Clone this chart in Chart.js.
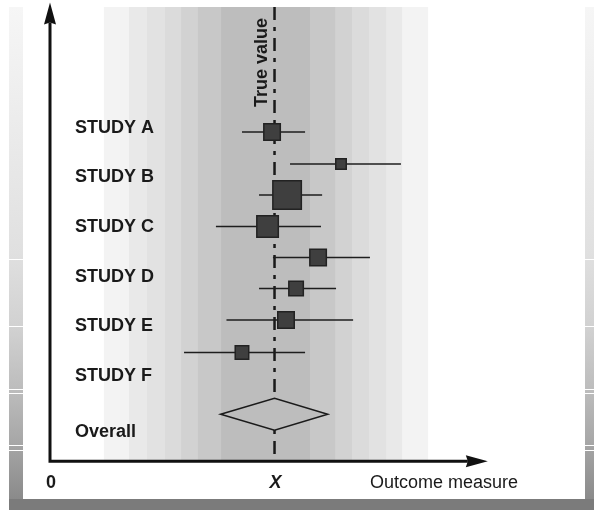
<!DOCTYPE html>
<html>
<head>
<meta charset="utf-8">
<script src="https://cdn.jsdelivr.net/npm/chart.js@4.4.1/dist/chart.umd.min.js"></script>
<style>
  html, body { margin: 0; padding: 0; background: #fff; }
  #wrap { width: 594px; height: 510px; }
</style>
</head>
<body>
<div id="wrap"><canvas id="forest" width="594" height="510"></canvas></div>
<script>
// row labels on the left
const studyLabels = ['STUDY A', 'STUDY B', 'STUDY C', 'STUDY D', 'STUDY E', 'STUDY F', 'Overall'];
const labelRows = [1, 2, 3, 4, 5, 6, 7.125];

// study estimates (X = 1) with their intervals and weights
const estRows   = [1.112, 1.757, 2.381, 3.016, 3.641, 4.270, 4.901, 5.556];
const estimates = [0.989, 1.296, 1.056, 0.969, 1.194, 1.096, 1.051, 0.855];
const lowerCI   = [0.855, 1.069, 0.931, 0.739, 0.993, 0.931, 0.786, 0.597];
const upperCI   = [1.136, 1.563, 1.212, 1.207, 1.425, 1.274, 1.350, 1.136];
const weights   = [18, 12, 30, 23, 18, 16, 18, 15];

// pooled result (diamond)
const overallRow = 6.805;
const overallEst = 1.0;
const overallLo  = 0.760;
const overallHi  = 1.237;
const overallHalf = 0.322;

const trueValue = 1;
const xTickValues = [0, 1];
const xTickLabels = ['0', 'X'];
const xAxisTitle = 'Outcome measure';
const trueLabel = 'True value';

// grey bands round the true value, outermost first
const bandLo   = [0.240, 0.352, 0.432, 0.512, 0.584, 0.659, 0.762];
const bandHi   = [1.684, 1.568, 1.497, 1.421, 1.345, 1.270, 1.158];
const bandGrey = ['#f3f3f3', '#e9e9e9', '#e2e2e2', '#dbdbdb', '#d2d2d2', '#c8c8c8', '#bdbdbd'];
const bandTop = -1.407;
const axisEnd = 1.95;

const FONT = '"Liberation Sans", Arial, Helvetica, sans-serif';
const INK = '#1a1a1a';

const forestPlugin = {
  id: 'forest',
  beforeDraw(chart) {
    const ctx = chart.ctx;
    ctx.save();
    ctx.fillStyle = '#fff';
    ctx.fillRect(0, 0, chart.width, chart.height);
    // page frame
    const g = ctx.createLinearGradient(0, 7, 0, 499);
    g.addColorStop(0, '#f6f6f6');
    g.addColorStop(0.5, '#e0e0e0');
    g.addColorStop(0.66, '#d0d0d0');
    g.addColorStop(0.78, '#bcbcbc');
    g.addColorStop(0.88, '#a8a8a8');
    g.addColorStop(1, '#8a8a8a');
    ctx.fillStyle = g;
    ctx.fillRect(9, 7, 14, 492);
    ctx.fillRect(585, 7, 9, 492);
    ctx.fillStyle = '#7b7b7b';
    ctx.fillRect(9, 499, 585, 11);
    ctx.strokeStyle = '#fff';
    ctx.lineWidth = 1;
    [259.5, 326.5, 389.5, 393.5, 445.5, 450.5].forEach(yy => {
      ctx.beginPath();
      ctx.moveTo(9, yy); ctx.lineTo(23, yy);
      ctx.moveTo(585, yy); ctx.lineTo(594, yy);
      ctx.stroke();
    });
    ctx.restore();
  },
  beforeDatasetsDraw(chart) {
    const { ctx, scales: { x, y } } = chart;
    const top = y.getPixelForValue(bandTop);
    const bottom = y.getPixelForValue(y.max);
    ctx.save();
    bandLo.forEach((lo, i) => {
      const l = x.getPixelForValue(lo), r = x.getPixelForValue(bandHi[i]);
      ctx.fillStyle = bandGrey[i];
      ctx.fillRect(l, top, r - l, bottom - top);
    });
    // true value line
    const tx = x.getPixelForValue(trueValue);
    ctx.strokeStyle = INK;
    ctx.lineWidth = 2.5;
    ctx.setLineDash([13, 7, 4, 7]);
    ctx.beginPath();
    ctx.moveTo(tx, top);
    ctx.lineTo(tx, bottom);
    ctx.stroke();
    ctx.setLineDash([]);
    // confidence intervals
    ctx.strokeStyle = '#1e1e1e';
    ctx.lineWidth = 1.5;
    estRows.forEach((row, i) => {
      const py = y.getPixelForValue(row);
      ctx.beginPath();
      ctx.moveTo(x.getPixelForValue(lowerCI[i]), py);
      ctx.lineTo(x.getPixelForValue(upperCI[i]), py);
      ctx.stroke();
    });
    ctx.restore();
  },
  afterDatasetsDraw(chart) {
    const { ctx, scales: { x, y } } = chart;
    ctx.save();
    // diamond
    const cy = y.getPixelForValue(overallRow);
    const dTop = y.getPixelForValue(overallRow - overallHalf);
    const dBot = y.getPixelForValue(overallRow + overallHalf);
    const cx = x.getPixelForValue(overallEst);
    ctx.beginPath();
    ctx.moveTo(x.getPixelForValue(overallLo), cy);
    ctx.lineTo(cx, dTop);
    ctx.lineTo(x.getPixelForValue(overallHi), cy);
    ctx.lineTo(cx, dBot);
    ctx.closePath();
    ctx.fillStyle = bandGrey[bandGrey.length - 1];
    ctx.fill();
    ctx.strokeStyle = INK;
    ctx.lineWidth = 1.5;
    ctx.stroke();

    // axes with arrow heads
    const x0 = x.getPixelForValue(0);
    const y0 = y.getPixelForValue(y.max);
    const yTip = y.getPixelForValue(y.min);
    const xTip = x.getPixelForValue(axisEnd);
    ctx.strokeStyle = '#111';
    ctx.fillStyle = '#111';
    ctx.lineWidth = 3;
    ctx.beginPath();
    ctx.moveTo(x0, y0 + 1.5);
    ctx.lineTo(x0, yTip + 20);
    ctx.moveTo(x0 - 1.5, y0);
    ctx.lineTo(xTip - 20, y0);
    ctx.stroke();
    ctx.beginPath();
    ctx.moveTo(x0, yTip);
    ctx.lineTo(x0 - 6, yTip + 22);
    ctx.lineTo(x0, yTip + 20);
    ctx.lineTo(x0 + 6, yTip + 22);
    ctx.closePath();
    ctx.fill();
    ctx.beginPath();
    ctx.moveTo(xTip, y0);
    ctx.lineTo(xTip - 22, y0 - 6);
    ctx.lineTo(xTip - 20, y0);
    ctx.lineTo(xTip - 22, y0 + 6);
    ctx.closePath();
    ctx.fill();

    // row labels
    ctx.fillStyle = INK;
    ctx.font = 'bold 18px ' + FONT;
    ctx.textAlign = 'left';
    ctx.textBaseline = 'alphabetic';
    studyLabels.forEach((t, i) => {
      ctx.fillText(t, 75, y.getPixelForValue(labelRows[i]) + 6.4);
    });

    // x ticks and title
    ctx.textAlign = 'center';
    ctx.font = 'bold 18px ' + FONT;
    ctx.fillText(xTickLabels[0], x.getPixelForValue(xTickValues[0]) + 1, 488);
    ctx.font = 'italic bold 18px ' + FONT;
    ctx.fillText(xTickLabels[1], x.getPixelForValue(xTickValues[1]) + 1, 488);
    ctx.textAlign = 'left';
    ctx.font = '18px ' + FONT;
    ctx.fillText(xAxisTitle, 370, 488);

    // vertical label next to the true value line
    ctx.font = 'bold 18px ' + FONT;
    ctx.translate(x.getPixelForValue(trueValue) - 8, 107);
    ctx.rotate(-Math.PI / 2);
    ctx.fillText(trueLabel, 0, 0);
    ctx.restore();
  }
};

new Chart(document.getElementById('forest'), {
  type: 'scatter',
  data: {
    datasets: [{
      data: estimates.map((v, i) => ({ x: v, y: estRows[i] })),
      pointStyle: 'rect',
      pointRadius: weights.map(w => (w - 1.5) / Math.SQRT2),
      pointBackgroundColor: '#3f3f3f',
      pointBorderColor: '#222',
      pointBorderWidth: 1.5,
      showLine: false
    }]
  },
  options: {
    responsive: false,
    animation: false,
    events: [],
    layout: { autoPadding: false, padding: { left: 50, right: 72.5, top: 2.4, bottom: 48.8 } },
    plugins: { legend: { display: false }, tooltip: { enabled: false } },
    scales: {
      x: { type: 'linear', display: false, min: 0, max: 2.1 },
      y: { type: 'linear', display: false, reverse: true, min: -1.5, max: 7.75 }
    }
  },
  plugins: [forestPlugin]
});
</script>
</body>
</html>
